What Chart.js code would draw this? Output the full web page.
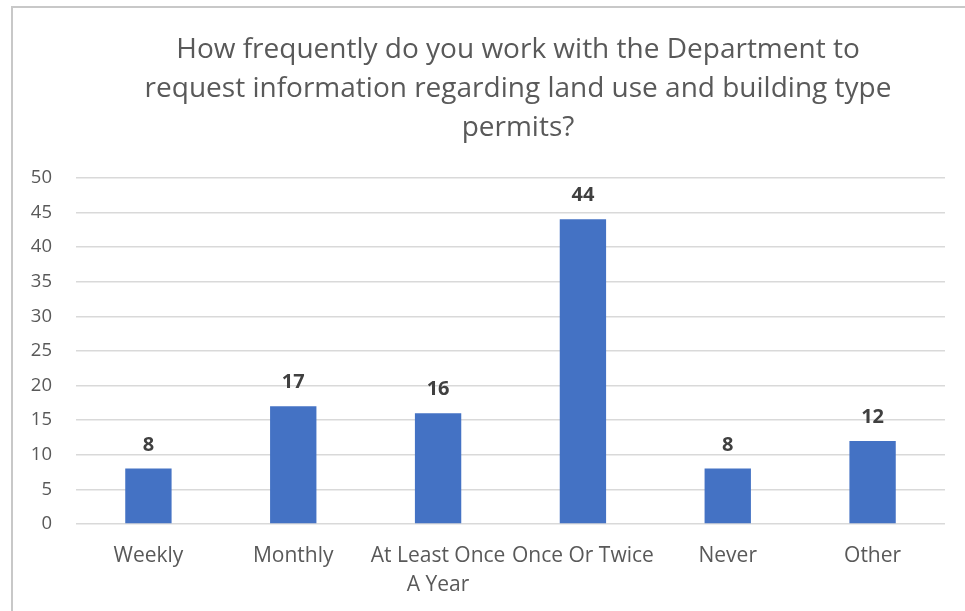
<!DOCTYPE html>
<html>
<head>
<meta charset="utf-8">
<script src="https://cdn.jsdelivr.net/npm/chart.js@4.4.1/dist/chart.umd.min.js"></script>
<style>
  html, body { margin: 0; padding: 0; background: #fff; overflow: hidden; width: 965px; height: 611px; }
  #frame { position: absolute; left: 11px; top: 6px; width: 1012px; height: 622px;
           border-left: 2px solid #C8C8C8; border-top: 2px solid #C8C8C8; }
  #wrap { position: absolute; left: 0; top: 0; width: 1010px; height: 620px; }
</style>
</head>
<body>
<div id="frame"><div id="wrap"><canvas id="c" width="1010" height="620"></canvas></div></div>
<script>
const titleLines = [
  'How frequently do you work with the Department to',
  'request information regarding land use and building type',
  'permits?'
];
const categories = [
  'Weekly',
  'Monthly',
  ['At Least Once', 'A Year'],
  'Once Or Twice',
  'Never',
  'Other'
];
const responses = [8, 17, 16, 44, 8, 12];
const yTicks = [0, 5, 10, 15, 20, 25, 30, 35, 40, 45, 50];

const FONT = "'Open Sans', 'Noto Sans', sans-serif";

const dataLabelPlugin = {
  id: 'dataLabels',
  afterDatasetsDraw(chart) {
    const ctx = chart.ctx;
    const meta = chart.getDatasetMeta(0);
    ctx.save();
    ctx.font = 'bold 20px ' + FONT;
    ctx.fillStyle = '#404040';
    ctx.textAlign = 'center';
    ctx.textBaseline = 'alphabetic';
    meta.data.forEach((bar, i) => {
      ctx.fillText(String(chart.data.datasets[0].data[i]), bar.x, bar.y - 18);
    });
    ctx.restore();
  }
};

new Chart(document.getElementById('c'), {
  type: 'bar',
  data: {
    labels: categories,
    datasets: [{
      data: responses,
      backgroundColor: '#4472C4',
      borderWidth: 0,
      barPercentage: 0.32,
      categoryPercentage: 1.0
    }]
  },
  options: {
    responsive: false,
    animation: false,
    devicePixelRatio: 1,
    layout: { padding: 0 },
    plugins: {
      legend: { display: false },
      tooltip: { enabled: false },
      title: {
        display: true,
        text: titleLines,
        color: '#595959',
        font: { family: FONT, size: 28, weight: 'normal', lineHeight: 1.39 },
        padding: { top: 23, bottom: 30 }
      }
    },
    scales: {
      x: {
        grid: { display: false, drawTicks: false },
        border: { display: false },
        ticks: {
          color: '#595959',
          font: { family: FONT, size: 21, lineHeight: 1.38 },
          padding: 18,
          maxRotation: 0,
          autoSkip: false
        },
        afterFit(scale) { scale.height = 620 - 516; }
      },
      y: {
        min: 0,
        max: 50,
        afterBuildTicks(scale) { scale.ticks = yTicks.map(v => ({ value: v })); },
        grid: { color: '#D9D9D9', lineWidth: 1.5, drawTicks: false },
        border: { display: false },
        ticks: {
          color: '#595959',
          font: { family: FONT, size: 18.5 },
          padding: 24
        },
        afterFit(scale) { scale.width = 63; }
      },
      spacer: {
        type: 'linear',
        position: 'right',
        display: true,
        grid: { display: false, drawTicks: false },
        border: { display: false },
        ticks: { display: false },
        afterFit(scale) { scale.width = 78; }
      }
    }
  },
  plugins: [dataLabelPlugin]
});
</script>
</body>
</html>
